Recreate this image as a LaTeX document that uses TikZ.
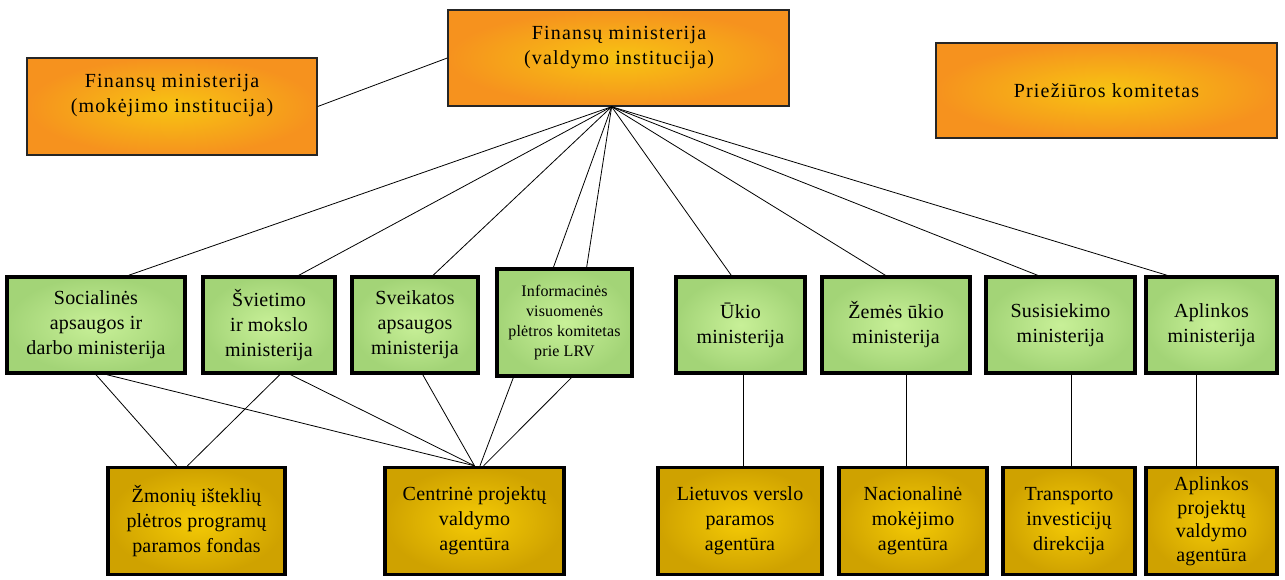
\documentclass[tikz,border=0pt]{standalone}
\usepackage{fontspec}
\setmainfont{Liberation Serif}[LetterSpace=1]
\newfontfamily\widefont{Liberation Serif}[LetterSpace=6]
\usetikzlibrary{calc}
\definecolor{oOut}{HTML}{F6921E}
\definecolor{oIn}{HTML}{F7C412}
\definecolor{gOut}{HTML}{A3D477}
\definecolor{gIn}{HTML}{C8F098}
\definecolor{yOut}{HTML}{CFA200}
\definecolor{yIn}{HTML}{F5CB05}
\tikzset{
 box/.style={rectangle, inner sep=0pt, align=center},
 obox/.style={box, draw=black!85, line width=1.4pt, inner color=oIn, outer color=oOut},
 gbox/.style={box, draw=black, line width=3.4pt, inner color=gIn, outer color=gOut, font=\fontsize{20}{25}\selectfont},
 ybox/.style={box, draw=black, line width=3.4pt, inner color=yIn, outer color=yOut, font=\fontsize{20}{25}\selectfont},
 txt/.style={align=center, inner sep=0pt, font=\widefont\fontsize{20}{25}\selectfont},
 conn/.style={draw=black, line width=0.8pt},
}
\begin{document}
\begin{tikzpicture}[x=1pt,y=-1pt]
\useasboundingbox (0,0) rectangle (1285,579);
% top row
\node[obox, minimum width=341pt, minimum height=96pt] (fv) at (618.5,58) {};
\node[txt] (fvt) at (619,48) {Finansų ministerija\\(valdymo institucija)};
\node[obox, minimum width=290pt, minimum height=97pt] (fm) at (172,106.5) {};
\node[txt] (fmt) at (172,96) {Finansų ministerija\\(mokėjimo institucija)};
\node[obox, minimum width=341pt, minimum height=95pt, font=\widefont\fontsize{20}{25}\selectfont] (pk) at (1106.5,90.5) {Priežiūros komitetas};
% green row
\node[gbox, minimum width=178pt, minimum height=96pt] (g1) at (96,325) {Socialinės\\apsaugos ir\\darbo ministerija};
\node[gbox, minimum width=132pt, minimum height=96pt] (g2) at (269,325) {Švietimo\\ir mokslo\\ministerija};
\node[gbox, minimum width=126pt, minimum height=96pt] (g3) at (415,325) {Sveikatos\\apsaugos\\ministerija};
\node[gbox, minimum width=135pt, minimum height=107pt, font=\fontsize{16}{20}\selectfont] (g4) at (564.5,322.5) {Informacinės\\visuomenės\\plėtros komitetas\\prie LRV};
\node[gbox, minimum width=129pt, minimum height=96pt] (g5) at (740.5,325) {Ūkio\\ministerija};
\node[gbox, minimum width=148pt, minimum height=96pt] (g6) at (896,325) {Žemės ūkio\\ministerija};
\node[gbox, minimum width=149pt, minimum height=96pt] (g7) at (1060.5,325) {Susisiekimo\\ministerija};
\node[gbox, minimum width=131pt, minimum height=96pt] (g8) at (1211.5,325) {Aplinkos\\ministerija};
% bottom row
\node[ybox, minimum width=177pt, minimum height=107pt] (ya) at (196.5,521) {Žmonių išteklių\\plėtros programų\\paramos fondas};
\node[ybox, minimum width=179pt, minimum height=107pt] (yb) at (474.5,521) {Centrinė projektų\\valdymo\\agentūra};
\node[ybox, minimum width=164pt, minimum height=107pt] (yc) at (740,521) {Lietuvos verslo\\paramos\\agentūra};
\node[ybox, minimum width=148pt, minimum height=107pt] (yd) at (913,521) {Nacionalinė\\mokėjimo\\agentūra};
\node[ybox, minimum width=132pt, minimum height=107pt] (ye) at (1069,521) {Transporto\\investicijų\\direkcija};
\node[ybox, minimum width=131pt, minimum height=107pt, font=\fontsize{20}{23.5}\selectfont] (yf) at (1211.5,521) {Aplinkos\\projektų\\valdymo\\agentūra};
% connectors
\coordinate (hub) at ($(fv.south west)!0.48!(fv.south east)$);
\draw[conn] ($(fm.north east)!0.5!(fm.south east)$) -- ($(fv.north west)!0.5!(fv.south west)$);
\draw[conn] (hub) -- ($(g1.north west)!0.68!(g1.north east)$);
\draw[conn] (hub) -- ($(g2.north west)!0.72!(g2.north east)$);
\draw[conn] (hub) -- ($(g3.north west)!0.64!(g3.north east)$);
\draw[conn] (hub) -- ($(g4.north west)!0.42!(g4.north east)$);
\draw[conn] (hub) -- ($(g4.north west)!0.66!(g4.north east)$);
\draw[conn] (hub) -- ($(g5.north west)!0.43!(g5.north east)$);
\draw[conn] (hub) -- ($(g6.north west)!0.43!(g6.north east)$);
\draw[conn] (hub) -- ($(g7.north west)!0.35!(g7.north east)$);
\draw[conn] (hub) -- ($(g8.north west)!0.17!(g8.north east)$);
\coordinate (ybt) at ($(yb.north west)!0.5!(yb.north east)$);
\draw[conn] ($(g1.south west)!0.50!(g1.south east)$) -- ($(ya.north west)!0.39!(ya.north east)$);
\draw[conn] ($(g1.south west)!0.56!(g1.south east)$) -- (ybt);
\draw[conn] ($(g2.south west)!0.58!(g2.south east)$) -- ($(ya.north west)!0.45!(ya.north east)$);
\draw[conn] ($(g2.south west)!0.66!(g2.south east)$) -- (ybt);
\draw[conn] ($(g3.south west)!0.56!(g3.south east)$) -- (ybt);
\draw[conn] ($(g4.south west)!0.13!(g4.south east)$) -- ($(yb.north west)!0.53!(yb.north east)$);
\draw[conn] ($(g4.south west)!0.55!(g4.south east)$) -- ($(yb.north west)!0.55!(yb.north east)$);
\coordinate (c5) at ($(g5.south west)!0.52!(g5.south east)$);
\coordinate (c6) at ($(g6.south west)!0.57!(g6.south east)$);
\coordinate (c7) at ($(g7.south west)!0.57!(g7.south east)$);
\coordinate (c8) at ($(g8.south west)!0.39!(g8.south east)$);
\draw[conn] (c5) -- (c5 |- yc.north);
\draw[conn] (c6) -- (c6 |- yd.north);
\draw[conn] (c7) -- (c7 |- ye.north);
\draw[conn] (c8) -- (c8 |- yf.north);
\end{tikzpicture}
\end{document}
